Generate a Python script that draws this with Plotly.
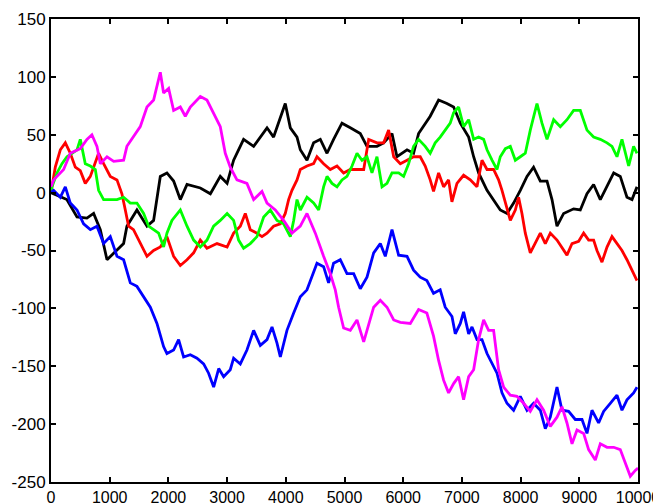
import plotly.graph_objects as go

# ---- data (step index, value) ----
black_x = [0, 270, 443, 612, 726, 840, 954, 1124, 1237, 1293, 1464, 1635, 1748, 1862, 1975, 2089, 2203,
           2317, 2544, 2715, 2884, 3000, 3111, 3281, 3452, 3680, 3792, 3991, 4077, 4191, 4247, 4361, 4474,
           4588, 4702, 4814, 4957, 5099, 5269, 5383, 5553, 5667, 5809, 5894, 6065, 6177, 6262, 6460, 6603,
           6745, 6859, 6973, 7115, 7200, 7285, 7428, 7540, 7654, 7768, 7881, 7995, 8109, 8221, 8336, 8450,
           8535, 8620, 8733, 8903, 9017, 9131, 9244, 9358, 9472, 9586, 9698, 9812, 9898, 9983]
black_y = [0, -6, -21, -22, -18, -32, -58, -50, -44, -29, -15, -29, -24, 14, 17, 10, -6,
           7, 4, -1, 14, 8, 28, 46, 40, 56, 48, 77, 56, 48, 37, 28, 43,
           46, 34, 46, 60, 56, 51, 40, 40, 43, 51, 31, 37, 34, 51, 66, 80,
           77, 74, 60, 48, 31, 17, 2, -6, -15, -18, -9, 2, 14, 22, 10, 10,
           -6, -29, -18, -14, -15, -1, 7, -6, 5, 17, 14, -4, -6, 5]

magenta_x = [0, 45, 215, 329, 499, 612, 697, 783, 840, 954, 1068, 1237, 1293, 1405, 1521, 1635, 1748,
             1862, 1918, 2004, 2089, 2203, 2288, 2373, 2544, 2657, 2771, 2884, 2969, 3054, 3168, 3338,
             3452, 3594, 3680, 3821, 3963, 4105, 4247, 4361, 4503, 4588, 4644, 4758, 4843, 4900, 4985,
             5099, 5213, 5327, 5412, 5497, 5610, 5724, 5838, 5951, 6121, 6262, 6403, 6517, 6603, 6688,
             6773, 6859, 6944, 7029, 7115, 7200, 7285, 7370, 7455, 7540, 7625, 7711, 7824, 7938, 8051,
             8165, 8279, 8392, 8506, 8620, 8705, 8790, 8876, 8961, 9074, 9159, 9273, 9358, 9472, 9586,
             9698, 9784, 9869, 9954, 10000]
magenta_y = [5, 11, 20, 34, 38, 46, 50, 40, 25, 31, 27, 28, 40, 48, 57, 74, 80,
             104, 86, 90, 71, 74, 66, 74, 83, 80, 68, 57, 34, 22, 11, 8,
             -6, 1, -9, -15, -24, -35, -29, -18, -35, -48, -55, -70, -84, -99, -117,
             -119, -110, -129, -113, -99, -93, -99, -110, -112, -113, -101, -104, -124, -145, -162,
             -173, -165, -159, -179, -159, -153, -127, -110, -119, -119, -153, -168, -175, -176, -182,
             -189, -179, -188, -202, -194, -185, -199, -217, -205, -208, -222, -231, -217, -220, -220,
             -222, -234, -245, -240, -238]

blue_x = [0, 45, 159, 244, 329, 443, 555, 670, 783, 896, 1010, 1124, 1237, 1351, 1464, 1578, 1692,
          1805, 1918, 1975, 2089, 2174, 2259, 2373, 2487, 2600, 2685, 2771, 2857, 2941, 3054, 3111,
          3225, 3338, 3452, 3566, 3680, 3765, 3850, 3907, 4020, 4134, 4247, 4361, 4446, 4531, 4644,
          4729, 4814, 4928, 5042, 5156, 5269, 5383, 5497, 5610, 5695, 5809, 5922, 6065, 6177, 6290,
          6403, 6517, 6630, 6716, 6831, 6887, 6973, 7029, 7115, 7172, 7257, 7342, 7428, 7513, 7598,
          7683, 7768, 7881, 7995, 8109, 8221, 8336, 8421, 8506, 8620, 8705, 8818, 8932, 9046, 9131,
          9216, 9329, 9414, 9528, 9642, 9727, 9812, 9925, 9983]
blue_y = [0, 2, -4, 5, -9, -15, -27, -32, -29, -44, -38, -55, -58, -78, -81, -90, -99,
          -113, -133, -139, -136, -127, -142, -140, -143, -148, -156, -168, -152, -159, -153, -143,
          -148, -136, -119, -132, -127, -116, -130, -142, -119, -104, -90, -84, -73, -61, -64,
          -78, -61, -58, -70, -70, -83, -73, -52, -44, -55, -32, -54, -55, -67, -73,
          -76, -87, -84, -99, -107, -122, -113, -103, -122, -116, -127, -127, -139, -148, -156,
          -173, -182, -188, -176, -188, -182, -188, -204, -194, -168, -188, -189, -196, -196, -208,
          -188, -199, -189, -182, -175, -188, -179, -173, -168]

red_x = [0, 17, 73, 159, 244, 329, 414, 499, 584, 670, 755, 811, 896, 1010, 1124, 1208, 1266, 1322,
         1405, 1491, 1635, 1748, 1862, 1975, 2089, 2203, 2317, 2430, 2543, 2657, 2828, 3000, 3111,
         3225, 3310, 3395, 3509, 3594, 3680, 3792, 3906, 3991, 4048, 4105, 4191, 4247, 4361, 4474,
         4531, 4644, 4758, 4872, 4985, 5099, 5213, 5327, 5412, 5553, 5667, 5752, 5838, 5951, 6065,
         6177, 6290, 6375, 6460, 6517, 6603, 6688, 6773, 6830, 6916, 7029, 7143, 7257, 7342, 7428,
         7540, 7625, 7683, 7740, 7825, 7910, 7966, 8023, 8080, 8165, 8250, 8336, 8421, 8506, 8620,
         8705, 8790, 8876, 8989, 9074, 9159, 9244, 9301, 9386, 9472, 9557, 9642, 9727, 9812, 9898, 9983]
red_y = [0, 5, 22, 37, 43, 34, 22, 19, 8, 14, 25, 34, 25, 14, 11, -1, -15, -29,
         -32, -41, -55, -50, -47, -38, -55, -63, -58, -52, -41, -48, -44, -47, -35,
         -29, -18, -32, -35, -38, -35, -29, -27, -18, -6, 2, 11, 20, 23, 25,
         31, 25, 20, 23, 17, 20, 20, 20, 46, 43, 43, 54, 31, 25, 28,
         31, 31, 23, 11, 1, 17, 5, 11, -8, 8, 15, 11, 5, 28, 20,
         20, 11, 2, -9, -24, -15, -4, -18, -35, -52, -44, -35, -44, -35, -41,
         -47, -54, -44, -42, -35, -41, -41, -50, -60, -47, -38, -44, -50, -58, -67, -76]

green_x = [0, 17, 102, 187, 272, 357, 443, 499, 584, 670, 755, 811, 896, 1010, 1124, 1237, 1351,
           1464, 1578, 1663, 1748, 1833, 1918, 1975, 2060, 2203, 2317, 2430, 2544, 2657, 2770, 2884,
           3000, 3111, 3196, 3281, 3395, 3509, 3623, 3736, 3850, 3963, 4077, 4134, 4191, 4247, 4361,
           4474, 4560, 4644, 4702, 4787, 4872, 4957, 5042, 5128, 5213, 5298, 5383, 5468, 5553, 5639,
           5724, 5809, 5922, 6007, 6092, 6177, 6262, 6375, 6460, 6545, 6630, 6716, 6801, 6859, 6944,
           7029, 7115, 7200, 7285, 7370, 7428, 7513, 7598, 7654, 7740, 7825, 7910, 7995, 8080, 8165,
           8279, 8364, 8450, 8563, 8677, 8790, 8903, 9017, 9131, 9244, 9358, 9472, 9557, 9642, 9727,
           9841, 9925, 9983]
green_y = [0, 5, 17, 25, 31, 34, 37, 46, 25, 23, 20, 2, -6, -6, -6, -4, -9,
           -9, -18, -29, -32, -35, -47, -35, -24, -15, -29, -41, -47, -41, -29, -24,
           -18, -24, -41, -48, -44, -38, -21, -15, -24, -27, -38, -24, -6, -15, -4,
           -9, -15, 5, 14, 8, 5, 11, 14, 23, 34, 28, 31, 17, 31, 5,
           8, 17, 17, 14, 25, 40, 46, 40, 34, 43, 48, 54, 60, 69, 74,
           57, 63, 46, 48, 46, 37, 28, 20, 31, 38, 40, 28, 31, 34, 54,
           77, 60, 46, 63, 57, 63, 71, 71, 54, 48, 46, 43, 40, 31, 46,
           23, 40, 34]

x_ticks = [0, 1000, 2000, 3000, 4000, 5000, 6000, 7000, 8000, 9000, 10000]
x_tick_labels = ["0", "1000", "2000", "3000", "4000", "5000", "6000", "7000", "8000", "9000", "10000"]
y_ticks = [-250, -200, -150, -100, -50, 0, 50, 100, 150]
y_tick_labels = ["-250", "-200", "-150", "-100", "-50", "0", "50", "100", "150"]

series = [
    (black_x, black_y, "#000000"),
    (red_x, red_y, "#ff0000"),
    (green_x, green_y, "#00ff00"),
    (blue_x, blue_y, "#0000ff"),
    (magenta_x, magenta_y, "#ff00ff"),
]

fig = go.Figure()
for xs, ys, col in series:
    fig.add_trace(go.Scatter(x=xs, y=ys, mode="lines",
                             line=dict(color=col, width=2.8), showlegend=False,
                             hoverinfo="skip"))

axis_common = dict(
    showgrid=False, zeroline=False,
    showline=True, linecolor="black", linewidth=2, mirror="allticks",
    ticks="inside", ticklen=5, tickwidth=2, tickcolor="black",
    automargin=False,
)
fig.update_xaxes(range=[0, 10000], tickmode="array", tickvals=x_ticks, ticktext=x_tick_labels,
                 tickfont=dict(family="Liberation Sans, Arial, sans-serif", size=16, color="black"),
                 **axis_common)
fig.update_yaxes(range=[-250, 150], tickmode="array", tickvals=y_ticks, ticktext=y_tick_labels,
                 tickfont=dict(family="Liberation Sans, Arial, sans-serif", size=17, color="black"),
                 **axis_common)

# page body has an 8px margin, so the figure is shifted by 8px in the window
fig.update_layout(
    width=661, height=504,
    margin=dict(l=43, r=31, t=11, b=30),
    plot_bgcolor="white", paper_bgcolor="white",
)

fig.write_html("out.html")
